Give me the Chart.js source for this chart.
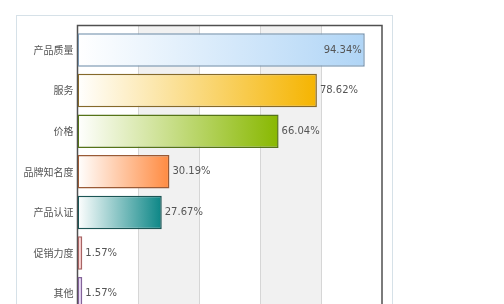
<!DOCTYPE html>
<html>
<head>
<meta charset="utf-8">
<script src="https://cdn.jsdelivr.net/npm/chart.js@4"></script>
<style>
  html, body { margin: 0; padding: 0; background: #fff; overflow: hidden; }
  #panel { position: absolute; left: 16px; top: 15px; width: 375px; height: 400px; border: 1px solid #d6e1e8; background: #fff; }
  #chart { position: absolute; left: 0; top: 0; }
</style>
</head>
<body>
<div id="panel"></div>
<canvas id="chart" width="504" height="324"></canvas>
<script>
let categories = ['产品质量', '服务', '价格', '品牌知名度', '产品认证', '促销力度', '其他'];
let values = [94.34, 78.62, 66.04, 30.19, 27.67, 1.57, 1.57];
let barColors = ['#b0d5f6', '#f5b400', '#88b800', '#ff8a40', '#0b8686', '#f0a0a0', '#c8a8e2'];
let borderColors = ['#7895b0', '#85692a', '#557318', '#9a5a35', '#1b5555', '#a86464', '#84649a'];

// gradient from white at the base to the colour at the bar end
function barGradient(c) {
    let chart = c.chart;
    let i = c.dataIndex;
    if (!chart.chartArea || i === undefined) return barColors[i || 0];
    let x = chart.scales.x;
    let x0 = x.getPixelForValue(0);
    let x1 = x.getPixelForValue(values[i]);
    let g = chart.ctx.createLinearGradient(x0, 0, x1, 0);
    g.addColorStop(0, '#ffffff');
    g.addColorStop(1, barColors[i]);
    return g;
}

let frameTop = 25.5;

// alternating bands and the dark frame
let bands = {
    id: 'bands',
    beforeDatasetsDraw(chart) {
        let ctx = chart.ctx;
        let a = chart.chartArea;
        let x = chart.scales.x;
        ctx.save();
        for (let v = 20; v < 100; v += 40) {
            let l = x.getPixelForValue(v), r = x.getPixelForValue(v + 20);
            ctx.fillStyle = '#f1f1f1';
            ctx.fillRect(l, frameTop, r - l, a.bottom - frameTop);
        }
        ctx.strokeStyle = '#d6d6d6';
        ctx.lineWidth = 1;
        for (let v = 20; v < 100; v += 20) {
            let p = Math.round(x.getPixelForValue(v)) + 0.5;
            ctx.beginPath();
            ctx.moveTo(p, frameTop);
            ctx.lineTo(p, a.bottom);
            ctx.stroke();
        }
        ctx.strokeStyle = '#505050';
        ctx.lineWidth = 1.5;
        ctx.strokeRect(a.left, frameTop, a.right - a.left, a.bottom + 10 - frameTop);
        ctx.restore();
    }
};

// percentage labels at the bar ends
let valueLabels = {
    id: 'valueLabels',
    afterDatasetsDraw(chart) {
        let ctx = chart.ctx;
        let meta = chart.getDatasetMeta(0);
        ctx.save();
        ctx.font = '10px "DejaVu Sans"';
        ctx.fillStyle = '#555';
        ctx.textBaseline = 'middle';
        meta.data.forEach(function (bar, i) {
            let text = values[i].toFixed(2) + '%';
            let w = ctx.measureText(text).width;
            if (bar.x + 3 + w > chart.chartArea.right) {
                ctx.textAlign = 'right';
                ctx.fillText(text, bar.x - 3, bar.y);
            } else {
                ctx.textAlign = 'left';
                ctx.fillText(text, bar.x + 3, bar.y);
            }
        });
        ctx.restore();
    }
};

new Chart(document.getElementById('chart'), {
    type: 'bar',
    data: {
        labels: categories,
        datasets: [{
            data: values,
            backgroundColor: barGradient,
            borderColor: borderColors,
            borderWidth: 1.5,
            borderSkipped: false,
            categoryPercentage: 1,
            barPercentage: 0.825
        }]
    },
    options: {
        indexAxis: 'y',
        responsive: false,
        animation: false,
        layout: { padding: { left: 0, right: 122, top: 29.7, bottom: 0 } },
        plugins: { legend: { display: false }, tooltip: { enabled: false } },
        scales: {
            x: { display: false, min: 0, max: 100 },
            y: {
                grid: { display: false, drawTicks: false },
                border: { display: false },
                ticks: {
                    padding: 4,
                    color: '#555',
                    font: { family: '"Noto Sans CJK SC"', size: 10 }
                },
                afterFit(scale) { scale.width = 77.5; }
            }
        }
    },
    plugins: [bands, valueLabels]
});
</script>
</body>
</html>
